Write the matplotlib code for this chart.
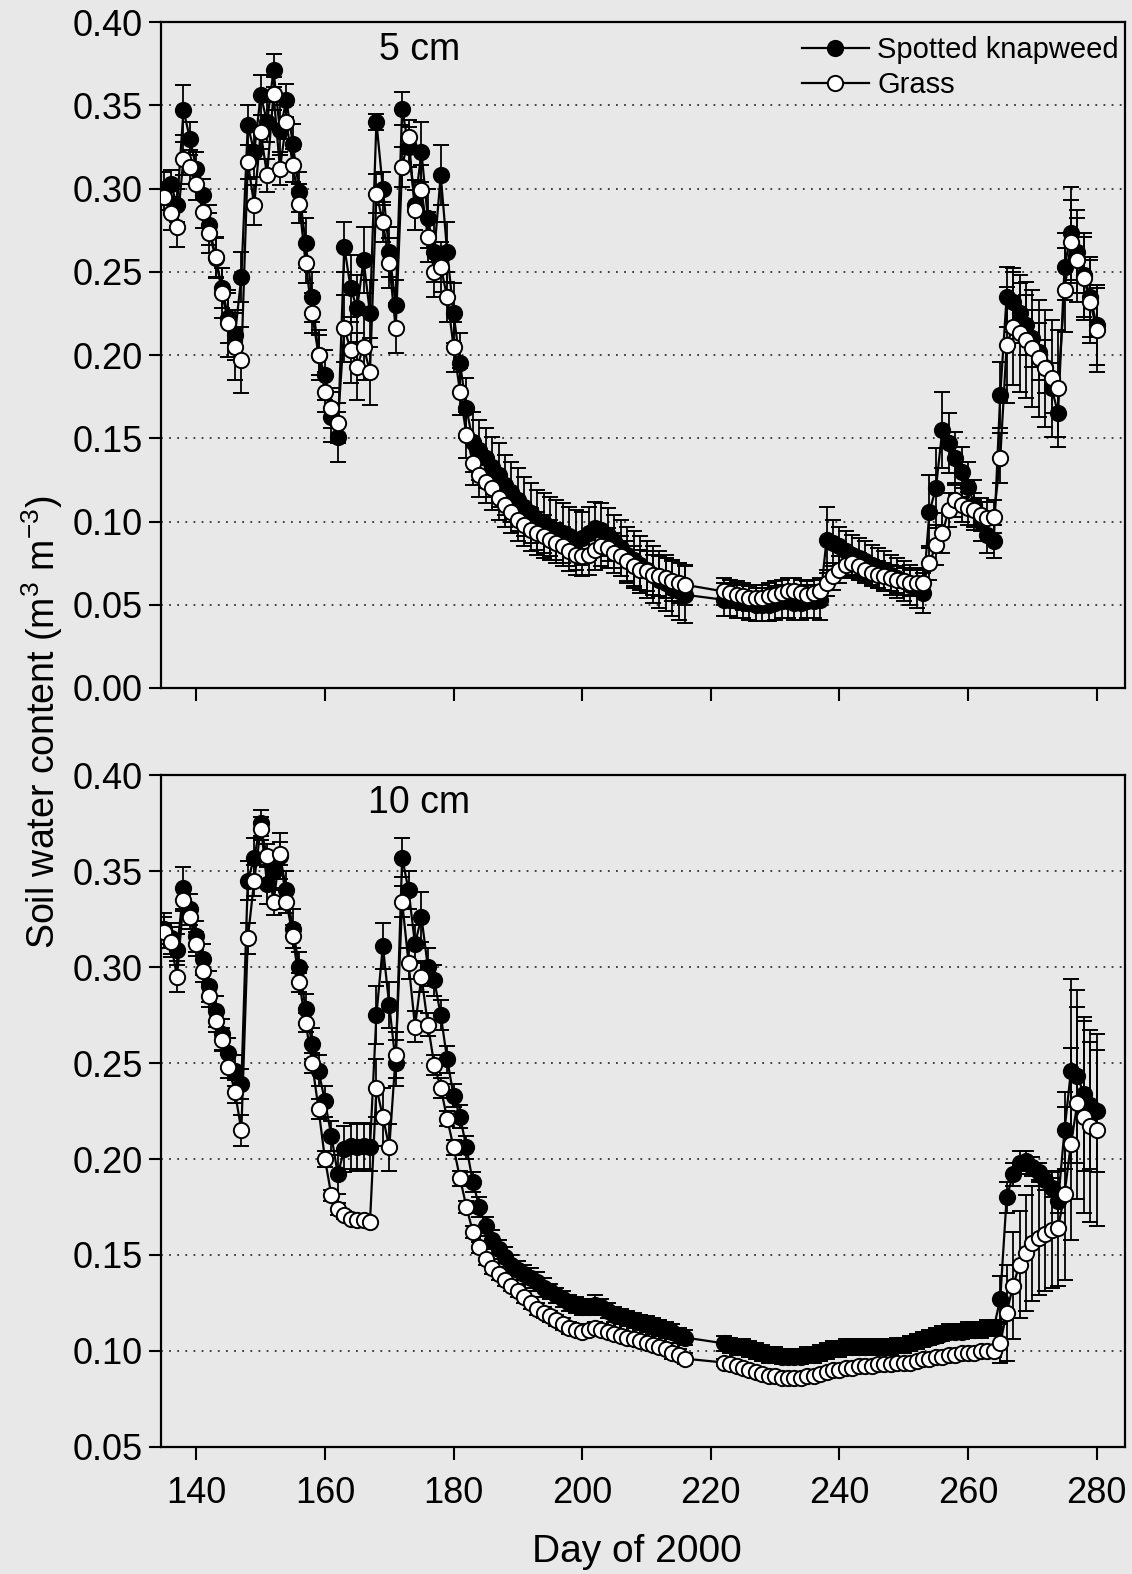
import matplotlib
matplotlib.use('Agg')
import matplotlib.pyplot as plt
from matplotlib.lines import Line2D

plt.rcParams['font.family'] = ['Liberation Sans', 'DejaVu Sans']
plt.rcParams['mathtext.fontset'] = 'custom'
plt.rcParams['mathtext.rm'] = 'Liberation Sans'
plt.rcParams['mathtext.it'] = 'Liberation Sans'

# day of year; no readings between day 217 and 221
days = list(range(135, 217)) + list(range(222, 281))

# ---- 5 cm depth ----
knap_5 = [
    0.300, 0.303, 0.290, 0.347, 0.330, 0.312, 0.296, 0.278, 0.258, 0.240,
    0.222, 0.212, 0.247, 0.338, 0.322, 0.356, 0.340, 0.371, 0.335, 0.353,
    0.327, 0.298, 0.267, 0.235, 0.200, 0.188, 0.163, 0.151, 0.265, 0.240,
    0.228, 0.257, 0.225, 0.340, 0.300, 0.262, 0.230, 0.348, 0.325, 0.290,
    0.322, 0.282, 0.262, 0.308, 0.262, 0.225, 0.195, 0.168, 0.148, 0.143,
    0.138, 0.133, 0.128, 0.122, 0.118, 0.113, 0.109, 0.105, 0.101, 0.099,
    0.097, 0.095, 0.093, 0.091, 0.089, 0.090, 0.093, 0.096, 0.095, 0.092,
    0.088, 0.084, 0.080, 0.077, 0.074, 0.071, 0.068, 0.065, 0.063, 0.060,
    0.058, 0.056,
    0.053, 0.053, 0.052, 0.052, 0.051, 0.050, 0.050, 0.050, 0.051, 0.052,
    0.052, 0.051, 0.051, 0.052, 0.052, 0.053, 0.089, 0.087, 0.085, 0.082,
    0.080, 0.078, 0.076, 0.074, 0.072, 0.070, 0.068, 0.066, 0.064, 0.062,
    0.060, 0.057, 0.106, 0.120, 0.155, 0.147, 0.138, 0.130, 0.121, 0.110,
    0.100, 0.092, 0.088, 0.176, 0.235, 0.232, 0.225, 0.218, 0.210, 0.202,
    0.193, 0.180, 0.165, 0.253, 0.273, 0.262, 0.248, 0.235, 0.218]
knap_5_err = [
    0.010, 0.008, 0.010, 0.015, 0.010, 0.010, 0.010, 0.012, 0.012, 0.012,
    0.015, 0.015, 0.015, 0.012, 0.015, 0.012, 0.012, 0.010, 0.015, 0.010,
    0.012, 0.012, 0.015, 0.015, 0.015, 0.015, 0.015, 0.015, 0.015, 0.020,
    0.020, 0.020, 0.020, 0.005, 0.010, 0.015, 0.015, 0.010, 0.012, 0.015,
    0.018, 0.018, 0.018, 0.018, 0.018, 0.018, 0.018, 0.018, 0.018, 0.018,
    0.018, 0.018, 0.019, 0.018, 0.018, 0.019, 0.018, 0.018, 0.018, 0.018,
    0.018, 0.018, 0.018, 0.018, 0.018, 0.016, 0.016, 0.016, 0.016, 0.016,
    0.016, 0.017, 0.017, 0.017, 0.017, 0.017, 0.017, 0.017, 0.017, 0.017,
    0.017, 0.017,
    0.010, 0.010, 0.010, 0.010, 0.010, 0.010, 0.010, 0.010, 0.010, 0.010,
    0.010, 0.010, 0.010, 0.010, 0.010, 0.012, 0.020, 0.014, 0.012, 0.012,
    0.012, 0.012, 0.012, 0.012, 0.012, 0.012, 0.012, 0.012, 0.012, 0.012,
    0.012, 0.012, 0.022, 0.024, 0.023, 0.018, 0.016, 0.015, 0.015, 0.015,
    0.012, 0.011, 0.010, 0.020, 0.018, 0.018, 0.018, 0.018, 0.017, 0.017,
    0.016, 0.015, 0.014, 0.020, 0.028, 0.025, 0.025, 0.024, 0.024]
grass_5 = [
    0.295, 0.285, 0.277, 0.318, 0.313, 0.303, 0.286, 0.273, 0.259, 0.237,
    0.219, 0.205, 0.197, 0.316, 0.290, 0.334, 0.308, 0.357, 0.312, 0.340,
    0.314, 0.291, 0.255, 0.225, 0.200, 0.178, 0.168, 0.159, 0.216, 0.203,
    0.193, 0.205, 0.190, 0.297, 0.280, 0.255, 0.216, 0.313, 0.331, 0.287,
    0.299, 0.271, 0.250, 0.253, 0.235, 0.205, 0.178, 0.152, 0.135, 0.128,
    0.124, 0.120, 0.114, 0.110, 0.106, 0.101, 0.098, 0.095, 0.093, 0.091,
    0.089, 0.087, 0.085, 0.082, 0.080, 0.079, 0.080, 0.083, 0.085, 0.084,
    0.081, 0.079, 0.076, 0.073, 0.071, 0.070, 0.068, 0.067, 0.066, 0.064,
    0.063, 0.062,
    0.058, 0.057, 0.056, 0.055, 0.054, 0.054, 0.054, 0.055, 0.056, 0.057,
    0.058, 0.058, 0.057, 0.056, 0.057, 0.058, 0.063, 0.067, 0.071, 0.074,
    0.075, 0.073, 0.071, 0.069, 0.068, 0.067, 0.066, 0.065, 0.064, 0.063,
    0.063, 0.063, 0.075, 0.086, 0.093, 0.107, 0.113, 0.110, 0.108, 0.107,
    0.104, 0.102, 0.103, 0.138, 0.206, 0.217, 0.213, 0.209, 0.204, 0.198,
    0.192, 0.186, 0.180, 0.239, 0.268, 0.257, 0.246, 0.232, 0.215]
grass_5_err = [
    0.008, 0.010, 0.012, 0.010, 0.010, 0.010, 0.010, 0.012, 0.012, 0.015,
    0.020, 0.020, 0.020, 0.010, 0.012, 0.010, 0.010, 0.010, 0.010, 0.010,
    0.010, 0.012, 0.012, 0.012, 0.012, 0.012, 0.012, 0.012, 0.020, 0.020,
    0.020, 0.020, 0.020, 0.012, 0.012, 0.015, 0.015, 0.012, 0.010, 0.012,
    0.015, 0.015, 0.015, 0.015, 0.015, 0.015, 0.014, 0.014, 0.013, 0.013,
    0.013, 0.013, 0.013, 0.013, 0.013, 0.013, 0.013, 0.013, 0.013, 0.013,
    0.012, 0.012, 0.012, 0.012, 0.012, 0.012, 0.012, 0.012, 0.012, 0.012,
    0.012, 0.012, 0.012, 0.012, 0.012, 0.012, 0.012, 0.012, 0.012, 0.012,
    0.012, 0.012,
    0.008, 0.008, 0.008, 0.008, 0.008, 0.008, 0.008, 0.008, 0.008, 0.008,
    0.008, 0.008, 0.008, 0.008, 0.008, 0.008, 0.008, 0.008, 0.008, 0.008,
    0.008, 0.008, 0.008, 0.008, 0.008, 0.008, 0.008, 0.008, 0.008, 0.008,
    0.008, 0.008, 0.010, 0.012, 0.012, 0.010, 0.010, 0.010, 0.010, 0.010,
    0.010, 0.010, 0.010, 0.015, 0.035, 0.035, 0.035, 0.035, 0.035, 0.035,
    0.035, 0.035, 0.035, 0.025, 0.025, 0.025, 0.025, 0.025, 0.025]

# ---- 10 cm depth ----
knap_10 = [
    0.320, 0.315, 0.309, 0.341, 0.330, 0.316, 0.304, 0.290, 0.277, 0.265,
    0.255, 0.246, 0.239, 0.345, 0.357, 0.375, 0.343, 0.350, 0.358, 0.340,
    0.320, 0.300, 0.278, 0.260, 0.246, 0.230, 0.212, 0.192, 0.205, 0.207,
    0.206, 0.207, 0.206, 0.275, 0.311, 0.280, 0.250, 0.357, 0.340, 0.312,
    0.326, 0.300, 0.293, 0.275, 0.252, 0.233, 0.222, 0.206, 0.188, 0.175,
    0.165, 0.158, 0.153, 0.149, 0.145, 0.142, 0.140, 0.138, 0.136, 0.133,
    0.131, 0.129, 0.127, 0.125, 0.124, 0.123, 0.123, 0.124, 0.123, 0.121,
    0.119, 0.118, 0.117, 0.116, 0.115, 0.114, 0.113, 0.112, 0.111, 0.110,
    0.108, 0.107,
    0.104, 0.103, 0.102, 0.102, 0.101, 0.100, 0.099, 0.098, 0.098, 0.097,
    0.097, 0.097, 0.097, 0.098, 0.098, 0.099, 0.100, 0.101, 0.101, 0.102,
    0.102, 0.102, 0.102, 0.102, 0.102, 0.102, 0.102, 0.103, 0.103, 0.104,
    0.105, 0.106, 0.107, 0.108, 0.109, 0.110, 0.110, 0.110, 0.111, 0.111,
    0.111, 0.112, 0.112, 0.127, 0.180, 0.192, 0.198, 0.199, 0.196, 0.193,
    0.189, 0.185, 0.178, 0.215, 0.246, 0.243, 0.234, 0.228, 0.225]
knap_10_err = [
    0.008, 0.008, 0.008, 0.011, 0.008, 0.008, 0.008, 0.008, 0.008, 0.008,
    0.008, 0.008, 0.008, 0.010, 0.010, 0.007, 0.010, 0.010, 0.012, 0.010,
    0.010, 0.008, 0.008, 0.008, 0.008, 0.008, 0.008, 0.010, 0.012, 0.012,
    0.012, 0.012, 0.012, 0.015, 0.012, 0.012, 0.012, 0.010, 0.010, 0.010,
    0.013, 0.010, 0.008, 0.008, 0.007, 0.006, 0.006, 0.006, 0.005, 0.005,
    0.005, 0.005, 0.005, 0.005, 0.005, 0.005, 0.005, 0.005, 0.005, 0.005,
    0.004, 0.004, 0.004, 0.004, 0.004, 0.004, 0.004, 0.005, 0.004, 0.004,
    0.004, 0.004, 0.004, 0.004, 0.004, 0.004, 0.004, 0.004, 0.004, 0.004,
    0.004, 0.004,
    0.004, 0.004, 0.004, 0.004, 0.004, 0.004, 0.004, 0.004, 0.004, 0.004,
    0.004, 0.004, 0.004, 0.004, 0.004, 0.004, 0.004, 0.004, 0.004, 0.004,
    0.004, 0.004, 0.004, 0.004, 0.004, 0.004, 0.004, 0.004, 0.004, 0.004,
    0.004, 0.004, 0.004, 0.004, 0.004, 0.004, 0.004, 0.004, 0.004, 0.004,
    0.004, 0.004, 0.004, 0.012, 0.008, 0.006, 0.006, 0.005, 0.005, 0.005,
    0.005, 0.005, 0.006, 0.020, 0.048, 0.045, 0.040, 0.033, 0.032]
grass_10 = [
    0.318, 0.313, 0.295, 0.335, 0.326, 0.312, 0.298, 0.285, 0.272, 0.262,
    0.248, 0.235, 0.215, 0.315, 0.345, 0.372, 0.358, 0.334, 0.359, 0.334,
    0.316, 0.292, 0.271, 0.250, 0.226, 0.200, 0.181, 0.174, 0.171, 0.169,
    0.168, 0.168, 0.167, 0.237, 0.222, 0.206, 0.254, 0.334, 0.302, 0.269,
    0.295, 0.270, 0.249, 0.237, 0.221, 0.206, 0.190, 0.175, 0.162, 0.154,
    0.148, 0.143, 0.140, 0.137, 0.134, 0.131, 0.128, 0.125, 0.122, 0.120,
    0.118, 0.116, 0.114, 0.112, 0.111, 0.110, 0.111, 0.112, 0.111, 0.110,
    0.109, 0.108, 0.107, 0.106, 0.105, 0.104, 0.103, 0.102, 0.101, 0.099,
    0.098, 0.096,
    0.094, 0.093, 0.092, 0.091, 0.090, 0.089, 0.088, 0.087, 0.087, 0.086,
    0.086, 0.086, 0.086, 0.087, 0.087, 0.088, 0.089, 0.090, 0.090, 0.091,
    0.091, 0.092, 0.092, 0.092, 0.093, 0.093, 0.093, 0.094, 0.094, 0.094,
    0.095, 0.096, 0.096, 0.097, 0.097, 0.098, 0.098, 0.099, 0.099, 0.099,
    0.100, 0.100, 0.100, 0.104, 0.120, 0.134, 0.145, 0.151, 0.156, 0.159,
    0.161, 0.163, 0.164, 0.182, 0.208, 0.229, 0.222, 0.217, 0.215]
grass_10_err = [
    0.008, 0.008, 0.008, 0.006, 0.006, 0.006, 0.006, 0.006, 0.006, 0.006,
    0.006, 0.006, 0.008, 0.008, 0.008, 0.006, 0.006, 0.007, 0.006, 0.006,
    0.006, 0.005, 0.005, 0.005, 0.005, 0.004, 0.003, 0.003, 0.002, 0.002,
    0.002, 0.002, 0.002, 0.015, 0.015, 0.012, 0.012, 0.008, 0.008, 0.008,
    0.008, 0.006, 0.005, 0.005, 0.004, 0.004, 0.004, 0.003, 0.003, 0.003,
    0.003, 0.003, 0.003, 0.003, 0.003, 0.003, 0.003, 0.003, 0.003, 0.003,
    0.003, 0.003, 0.003, 0.003, 0.003, 0.003, 0.003, 0.003, 0.003, 0.003,
    0.003, 0.003, 0.003, 0.003, 0.003, 0.003, 0.003, 0.003, 0.003, 0.003,
    0.003, 0.003,
    0.002, 0.002, 0.002, 0.002, 0.002, 0.002, 0.002, 0.002, 0.002, 0.002,
    0.002, 0.002, 0.002, 0.002, 0.002, 0.002, 0.002, 0.002, 0.002, 0.002,
    0.002, 0.002, 0.002, 0.002, 0.002, 0.002, 0.002, 0.002, 0.002, 0.002,
    0.002, 0.002, 0.002, 0.002, 0.002, 0.002, 0.002, 0.002, 0.002, 0.002,
    0.002, 0.003, 0.003, 0.010, 0.025, 0.028, 0.028, 0.030, 0.030, 0.030,
    0.030, 0.030, 0.030, 0.045, 0.050, 0.050, 0.050, 0.050, 0.050]

y_ticks_5 = [0.00, 0.05, 0.10, 0.15, 0.20, 0.25, 0.30, 0.35, 0.40]
y_ticks_10 = [0.05, 0.10, 0.15, 0.20, 0.25, 0.30, 0.35, 0.40]
x_ticks = [140, 160, 180, 200, 220, 240, 260, 280]

bg = '#e8e8e8'


def panel(ax, knap, knap_err, grass, grass_err, yticks, label, show_x):
    """One depth: two series with error bars on a dotted grid."""
    ax.set_facecolor(bg)
    common = dict(color='black', mec='black', ms=11, mew=1.4, lw=1.6,
                  elinewidth=1.3, capsize=6, capthick=1.3)
    ax.errorbar(days, knap, yerr=knap_err, fmt='o-', mfc='black',
                zorder=3, **common)
    ax.errorbar(days, grass, yerr=grass_err, fmt='o-', mfc='white',
                zorder=4, **common)

    ax.set_xlim(134.5, 284.4)
    ax.set_ylim(yticks[0], yticks[-1])
    ax.set_yticks(yticks)
    ax.set_yticklabels(['%.2f' % v for v in yticks])
    ax.set_xticks(x_ticks)
    if not show_x:
        ax.set_xticklabels([])
    for v in yticks[1:-1]:
        ax.axhline(v, color='#333333', lw=1.3, ls=(0, (1, 3.5)), zorder=1)

    for s in ax.spines.values():
        s.set_linewidth(1.6)
    ax.tick_params(direction='out', length=9, width=1.5, labelsize=26,
                   top=False, right=False)
    ax.tick_params(axis='y', pad=4)
    ax.tick_params(axis='x', pad=12)
    ax.text(0.268, 0.958, label, transform=ax.transAxes, fontsize=27,
            ha='center', va='center')


fig = plt.figure(figsize=(11.32, 15.74), dpi=100, facecolor=bg)
ax_top = fig.add_axes([0.1422, 0.5629, 0.8516, 0.4231])
ax_bot = fig.add_axes([0.1422, 0.0807, 0.8516, 0.4269])

panel(ax_top, knap_5, knap_5_err, grass_5, grass_5_err, y_ticks_5, '5 cm', False)
panel(ax_bot, knap_10, knap_10_err, grass_10, grass_10_err, y_ticks_10, '10 cm', True)

handles = [
    Line2D([], [], color='black', marker='o', mfc='black', mec='black',
           ms=11, mew=1.4, lw=1.6),
    Line2D([], [], color='black', marker='o', mfc='white', mec='black',
           ms=11, mew=1.4, lw=1.6),
]
ax_top.legend(handles, ['Spotted knapweed', 'Grass'], loc='upper right',
              bbox_to_anchor=(1.012, 1.005), frameon=False, fontsize=21,
              handlelength=2.3, handletextpad=0.3, labelspacing=0.25,
              borderaxespad=0.2)

fig.text(0.037, 0.541, 'Soil water content (m$^3$ m$^{-3}$)', rotation=90,
         ha='center', va='center', fontsize=27)
fig.text(0.563, 0.014, 'Day of 2000', ha='center', va='center', fontsize=28)

fig.savefig('out.png', dpi=100, facecolor=bg)
